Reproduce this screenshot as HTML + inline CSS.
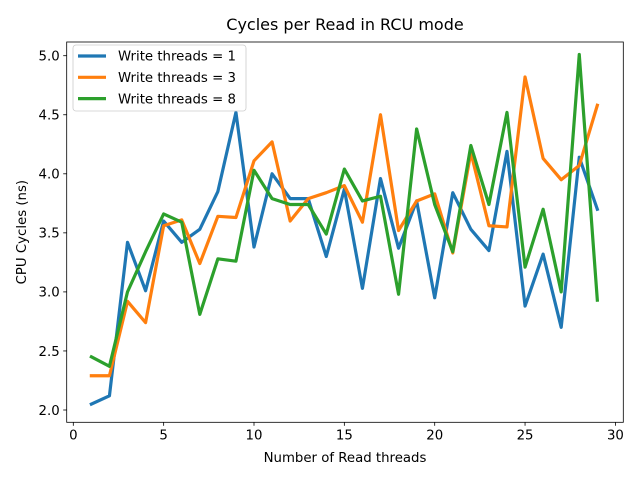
<!DOCTYPE html>
<html><head><meta charset="utf-8"><style>
body{margin:0;background:#fff;}
svg{font-family:"DejaVu Sans","Liberation Sans",sans-serif;}
</style></head><body>
<svg id="chart" width="640" height="480" xmlns="http://www.w3.org/2000/svg"></svg>
<script>
const xValues=[1,2,3,4,5,6,7,8,9,10,11,12,13,14,15,16,17,18,19,20,21,22,23,24,25,26,27,28,29];
const series1=[2.05,2.12,3.42,3.01,3.60,3.42,3.53,3.85,4.52,3.38,4.00,3.79,3.79,3.30,3.87,3.03,3.96,3.37,3.77,2.95,3.84,3.53,3.35,4.19,2.88,3.32,2.70,4.14,3.70];
const series3=[2.29,2.29,2.92,2.74,3.56,3.61,3.24,3.64,3.63,4.11,4.27,3.60,3.79,3.84,3.90,3.59,4.50,3.52,3.77,3.83,3.33,4.18,3.56,3.55,4.82,4.13,3.95,4.07,4.58];
const series8=[2.45,2.37,3.00,3.34,3.66,3.59,2.81,3.28,3.26,4.03,3.79,3.74,3.74,3.49,4.04,3.77,3.81,2.98,4.38,3.74,3.34,4.24,3.74,4.52,3.21,3.70,3.00,5.01,2.93];
const xTicks=[0,5,10,15,20,25,30];
const yTicks=[2.0,2.5,3.0,3.5,4.0,4.5,5.0];
const seriesNames=["Write threads = 1","Write threads = 3","Write threads = 8"];
const colors=["#1f77b4","#ff7f0e","#2ca02c"];
const NS="http://www.w3.org/2000/svg";
const svg=document.getElementById('chart');
const L=66.7,R=623.3,T=42,B=422.3;
const sx=v=>73.3+v*18.07;
const sy=v=>410-(v-2)*118.1;
function mk(tag,attrs,parent){const e=document.createElementNS(NS,tag);for(const k in attrs)e.setAttribute(k,attrs[k]);(parent||svg).appendChild(e);return e;}
// ticks
xTicks.forEach(t=>{
  const l=mk('line',{x1:sx(t),x2:sx(t),y1:B,y2:B+3.5,stroke:'#000','stroke-width':0.8});
  
  
  const tx=mk('text',{x:sx(t),y:B+17,'text-anchor':'middle','font-size':13.3});
  tx.textContent=t;
  
  
});
yTicks.forEach(t=>{
  const l=mk('line',{x1:L-3.5,x2:L,y1:sy(t),y2:sy(t),stroke:'#000','stroke-width':0.8});
  
  
  const tx=mk('text',{x:L-7,y:sy(t)+4.8,'text-anchor':'end','font-size':13.3});
  tx.textContent=t.toFixed(1);
  
  
});
// lines
[series1,series3,series8].forEach((s,i)=>{
  const p=mk('polyline',{points:s.map((v,j)=>sx(xValues[j])+','+sy(v)).join(' '),fill:'none',stroke:colors[i],'stroke-width':3.2,'stroke-linejoin':'round','stroke-linecap':'square'});
  
  
});
// spines
const fr=mk('rect',{x:L,y:T,width:R-L,height:B-T,fill:'none',stroke:'#000','stroke-width':0.8});


// title & labels
const ti=mk('text',{x:(L+R)/2,y:30,'text-anchor':'middle','font-size':16});
ti.textContent='Cycles per Read in RCU mode';


const xl=mk('text',{x:(L+R)/2,y:462,'text-anchor':'middle','font-size':13.3});
xl.textContent='Number of Read threads';


const yl=mk('text',{x:0,y:0,'text-anchor':'middle','font-size':13.3,transform:'translate(26,'+((T+B)/2)+') rotate(-90)'});
yl.textContent='CPU Cycles (ns)';


// legend
const lg=mk('g',{});


mk('rect',{x:73,y:45,width:173,height:66,rx:3,fill:'#fff','fill-opacity':0.8,stroke:'#ccc','stroke-width':0.8},lg);
seriesNames.forEach((n,i)=>{
  const y=56+i*21.3;
  const ln=mk('line',{x1:78,x2:106,y1:y,y2:y,stroke:colors[i],'stroke-width':3.2},lg);
  
  
  const tx=mk('text',{x:118,y:y+4.7,'font-size':13.3},lg);
  tx.textContent=n;
  
  
});
</script>
</body></html>
